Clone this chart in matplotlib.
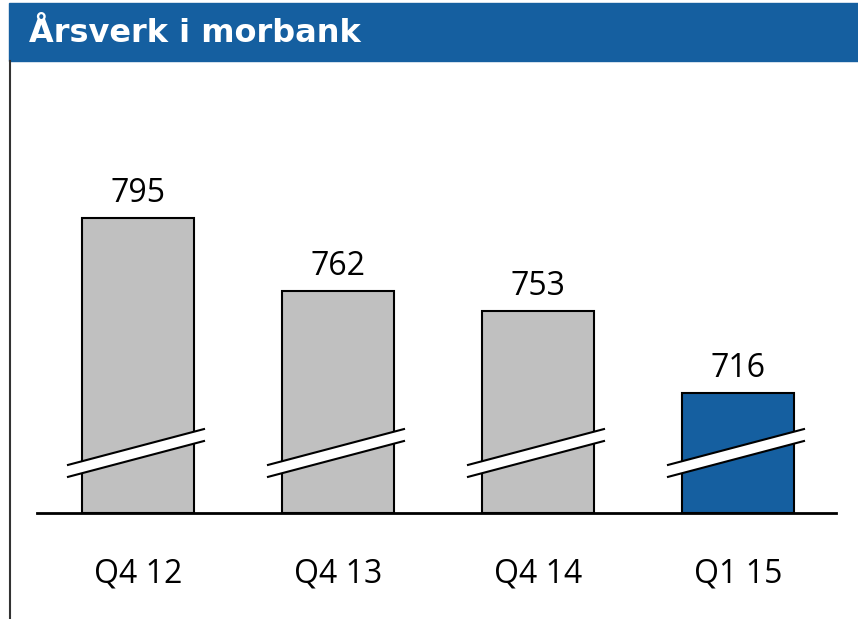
import matplotlib
matplotlib.use('Agg')
import matplotlib.pyplot as plt
from matplotlib.patches import Rectangle, Polygon
from matplotlib.lines import Line2D

categories = ['Q4 12', 'Q4 13', 'Q4 14', 'Q1 15']
values = [795, 762, 753, 716]
colors = ['#c0c0c0', '#c0c0c0', '#c0c0c0', '#155fa0']
title = 'Årsverk i morbank'

W, H = 858, 619
fig = plt.figure(figsize=(W / 100, H / 100), dpi=100)

# title bar
fig.patches.append(Rectangle((9 / W, 1 - 61 / H), 1 - 9 / W, 58 / H,
                             transform=fig.transFigure, color='#155fa0', zorder=0))
fig.text(29 / W, 1 - 33 / H, title, color='white', fontsize=23,
         fontweight='bold', family='DejaVu Sans', va='center', ha='left')
# left frame line
fig.add_artist(Line2D([9.5 / W, 9.5 / W], [0, 1 - 61 / H], transform=fig.transFigure,
                      color='#333333', lw=1.5))

ax = fig.add_axes([37 / W, 1 - 513 / H, (836 - 37) / W, (513 - 62) / H])
ymin, ymax = 661.8, 865.4
x = list(range(len(categories)))
ax.bar(x, [v - ymin for v in values], bottom=ymin, width=0.56, color=colors,
       edgecolor='black', linewidth=1.5, zorder=2)
ax.set_xlim(-0.505, 3.49)
ax.set_ylim(ymin, ymax)

# axis break marks
for xi in x:
    xl, xr = xi - 0.35, xi + 0.33
    lo = (ymin + 16.3, ymin + 32.5)
    up = (ymin + 21.7, ymin + 37.9)
    ax.add_patch(Polygon([(xl, lo[0]), (xr, lo[1]), (xr, up[1]), (xl, up[0])],
                         closed=True, facecolor='white', edgecolor='none', zorder=3))
    ax.plot([xl, xr], [lo[0], lo[1]], color='black', lw=1.5, zorder=4)
    ax.plot([xl, xr], [up[0], up[1]], color='black', lw=1.5, zorder=4)

font = 'Open Sans'
for xi, v in zip(x, values):
    ax.annotate(str(v), (xi, v), xytext=(0, 11.5), textcoords='offset points',
                ha='center', va='baseline', fontsize=23, family=font)
for xi, c in zip(x, categories):
    ax.annotate(c, (xi, 0), xycoords=('data', 'axes fraction'), xytext=(0, -49.7),
                textcoords='offset points', ha='center', va='baseline',
                fontsize=23, family=font)

for s in ['top', 'right', 'left']:
    ax.spines[s].set_visible(False)
ax.spines['bottom'].set_linewidth(2)
ax.set_xticks([])
ax.set_yticks([])

fig.savefig('out.png', dpi=100)
